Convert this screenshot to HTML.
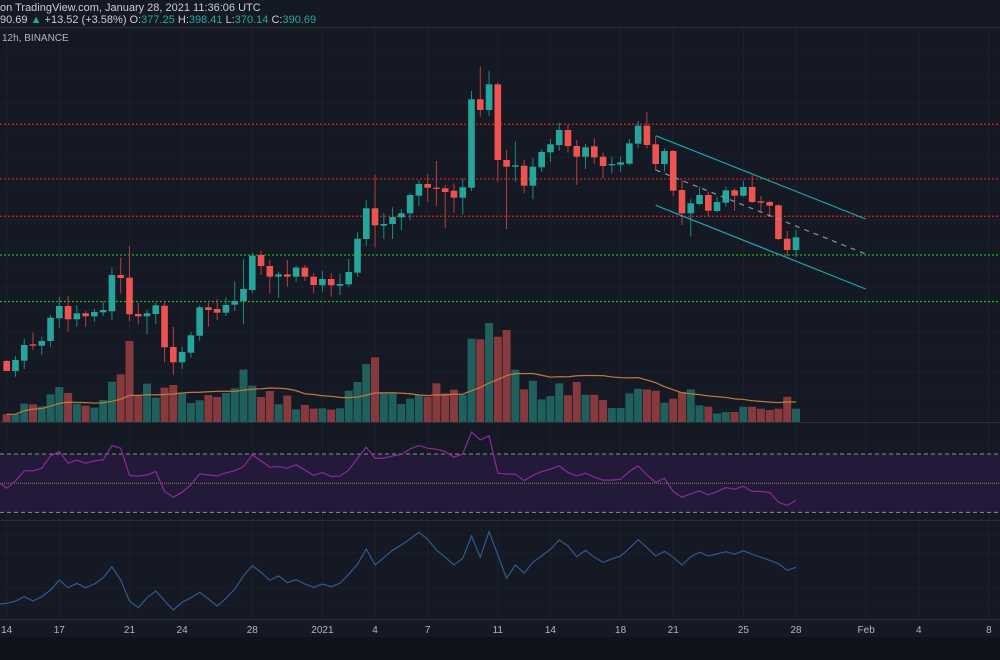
<!DOCTYPE html>
<html><head><meta charset="utf-8">
<style>
html,body{margin:0;padding:0;background:#151924;width:1000px;height:660px;overflow:hidden;font-family:"Liberation Sans",sans-serif}
svg{display:block}
</style></head>
<body>
<svg id="chart" width="1000" height="660" xmlns="http://www.w3.org/2000/svg">
<rect x="0" y="0" width="1000" height="660" fill="#151924"/>
<rect x="0" y="637" width="1000" height="23" fill="#10131b"/>
<g id="grid"></g>
<g id="levels"></g>
<g id="vol"></g>
<g id="candles"></g>
<g id="channel"></g>
<g id="rsi"></g>
<g id="lower"></g>
<g id="xaxis"></g>
<text x="0" y="11" fill="#c8ccd6" font-size="11">on TradingView.com, January 28, 2021 11:36:06 UTC</text>
<text x="0" y="23" font-size="11"><tspan fill="#c8ccd6">90.69 </tspan><tspan fill="#26a69a">▲</tspan><tspan fill="#c8ccd6"> +13.52 (+3.58%) O:</tspan><tspan fill="#26a69a">377.25</tspan><tspan fill="#c8ccd6"> H:</tspan><tspan fill="#26a69a">398.41</tspan><tspan fill="#c8ccd6"> L:</tspan><tspan fill="#26a69a">370.14</tspan><tspan fill="#c8ccd6"> C:</tspan><tspan fill="#26a69a">390.69</tspan></text>
<line x1="0" y1="27.5" x2="1000" y2="27.5" stroke="#2a2e39"/>
<text x="2" y="41" fill="#b2b5be" font-size="10">12h, BINANCE</text>
</svg>
<script>
const opens  =[267,257,267.3,283.7,282.3,287,309.7,322,308.7,314.7,311.7,315.7,316.7,353,350.3,314,311.7,314,322.3,281,265.7,275.3,292.3,320.7,319,315.3,323.3,327,338,373,362,351.3,353.7,351.3,360.3,351.3,342.7,349,342.3,343.7,355.3,389,419.7,402.3,404,410.7,414.7,432.3,444,440.3,439.7,437.3,430.3,440.3,528.7,518,543.7,468,461.3,462.3,442.3,460.7,475.7,483,498,482,471.3,481.7,471.3,462.7,463.3,464.3,484.3,502.3,483.7,464,477,438,414.7,424,433,417,425.3,437.7,432.3,441,426.7,426,422.7,389.3,378];
const closes =[257,268,283,282.3,287,310.3,322,308.7,314.7,311.7,316,318,353,350,313.7,311.7,314.7,322.7,280.7,265.7,276,292.7,320.7,318,315.3,323,327,339,372.3,362,351.3,353.7,351.3,360.3,351.3,343,349,342.7,344,356,389.3,419.7,402.7,404,411,414.7,433,444,440.3,439.3,436,430.3,440.7,528.7,518,543.7,468,461.3,462.7,442.3,461.3,476,483.7,498,482,471.3,480.7,470.7,462,464,465.7,484.7,502.3,483,464,477,437.3,414.7,424.7,433,417.3,426,437.7,432.3,441,426,425.3,422.3,389,378,390.7];
const highs  =[268,272.3,289,295.3,291.3,313,331.3,332,323,317,319.3,327,360.3,370.3,382,325.3,318,325.3,326.3,301,281.3,296,322.7,325.3,329,330.7,346.3,368.7,375.3,377.3,368,356.3,368,362,363,354.7,357,354.7,354,369,395.7,428,453,414.7,420.7,419,434.7,448,454,467,443,444.7,449.7,537,561.3,557.3,545.7,478,486.3,468,469.7,478.7,489,505.3,503.7,488,484,489.7,475.3,471.3,471.3,489,507,515.7,492,479.7,478,448,428.7,441.3,436.3,431.3,441.3,439.7,447.3,453,432,427.3,423.7,397,398];
const lows   =[257,251.3,259,278,273,281,300.3,296.3,301.3,301.3,306.3,312,308,334.7,307,303.7,293.7,304,266,253.3,259,270.3,287.3,301.3,308,312,317.3,304,334.7,353,334.7,330.3,341.3,346.3,347,334.7,336.3,331.3,333,341.3,351.3,382.3,380.7,389,389,398,408,422,426.3,422,400.3,415.3,413.7,437,511.3,512.3,446.3,399,446.3,434.7,428.7,456,466.3,477.3,475.3,443,459,464,449.7,454.7,456,463,480.3,479.7,457,456.3,432,403,391.3,422.7,411.3,415.3,421.3,417.3,431.3,424.7,416.3,411.3,388,371.3,371.3];
const volumes=[7.7,7.7,18.4,17.7,15.7,27.7,35,29,18.4,16.4,14.4,22,40.4,47.7,81,26.4,38.4,24.4,34.4,37,28.7,19,21.7,27,25,29,33.7,52.4,36.4,25,31,17.7,26.4,12.7,17,13.4,13.7,12.4,13.7,31.4,40,58,64.7,29,29,18,23.3,27.3,25.3,38.7,28.7,32.3,27.3,83.3,82.7,99,85.3,92,52.3,32.6,41.3,22.6,26,38.7,26.7,40,27.3,27.3,22,14,14,28.6,33.3,32.6,31.3,19.3,23.3,30,32.6,16.6,15.3,8.6,10,10,15.3,15.3,13.3,12,13.3,25.3,13.3];
const rsiValues=[46.6,51.6,58.5,58.5,60.3,68.7,71.7,63.7,65.8,63.7,65.3,66,75.8,74,55.3,54.8,55.7,58,44.3,40.4,43.8,48.9,56.4,55.7,55,57.1,58.5,61.4,69.4,65.3,61,61.4,60.3,62.6,59.1,55.3,57.3,54.6,54.8,59.1,67.1,74.7,67.1,67.1,68.7,69.7,73.5,75.8,74,73.3,71.7,67.8,70.1,85,79.7,82.5,56.9,56.2,56.2,51.8,55.3,58,59.6,61.9,57.3,55,56.9,54.1,52.1,52.1,52.7,58,61.9,55.7,50.5,53.4,44.3,40.4,42.7,44.7,42,44.3,47,45.9,47.9,44.5,44.3,43.6,37,34.7,38.3];
const lowerValues=[16.7,19,23.3,19,23.3,30,40,32.3,36.7,32.3,36,42.3,53.3,40,19,12.3,22.3,29,19.3,10,17.7,22.3,27.7,21,14,21.7,30.7,44.3,54.3,47.7,39.7,44,37.3,40.3,36,32.7,36,33.3,36.7,45.7,55.7,71,55,62.3,69.7,75,81,87.7,80.7,70,62.7,55,61.7,84,62.7,88.3,65,41.7,55,47,57.7,64,70.7,80,74,63.3,69.7,62.7,57.7,61,64,71.7,80.3,72.3,64,68.7,62.7,55,63.3,67.7,64,66,68.3,65.7,69.3,65.7,62.7,59.7,56.3,49.7,52.7];
const xLabels=["14","17","21","24","28","2021","4","7","11","14","18","21","25","28","Feb","4","8"];
const xLabelIdx=[0,6,14,20,28,36,42,48,56,62,70,76,84,90,98,104,112];
const resLevels=[503.7,449,411.7];
const supLevels=[373,326.5];

const NS="http://www.w3.org/2000/svg";
const X=i=>6.7+i*8.77;
const PY=p=>628-p;
const VY=v=>422-v;
const RY=r=>483.2-(r-50)*1.458;
const LY=v=>620-v;
const GREEN="#26a69a",RED="#ef5350";
function mk(tag,attrs,parent){const e=document.createElementNS(NS,tag);for(const k in attrs)e.setAttribute(k,attrs[k]);parent.appendChild(e);return e;}
const G=id=>document.getElementById(id);

const grid=G('grid');
xLabelIdx.forEach(i=>{const l=mk('line',{x1:X(i),x2:X(i),y1:28,y2:619,stroke:'#1e222d','stroke-width':1},grid);

});
[50,78,103,130,157,187,220,245,267,287,310,332,352,372,392,410,445,468,498,535,553,588,605].forEach(y=>{const l=mk('line',{x1:0,x2:1000,y1:y,y2:y,stroke:'#1c202b','stroke-width':1},grid);

});
[422.5,520.5,619.5].forEach(y=>{const l=mk('line',{x1:0,x2:1000,y1:y,y2:y,stroke:'#2a2e39','stroke-width':1},grid);

});

const lv=G('levels');
resLevels.forEach(p=>{const l=mk('line',{x1:0,x2:1000,y1:PY(p),y2:PY(p),stroke:'#d01c1c','stroke-width':1.3,'stroke-dasharray':'2,2'},lv);

});
supLevels.forEach(p=>{const l=mk('line',{x1:0,x2:1000,y1:PY(p),y2:PY(p),stroke:'#1fb31f','stroke-width':1.3,'stroke-dasharray':'2,2'},lv);

});

const vg=G('vol');
volumes.forEach((v,i)=>{const up=closes[i]>=opens[i];const r=mk('rect',{x:X(i)-4,y:VY(v),width:8,height:v,fill:up?'#1f5f5c':'#873a3e'},vg);

});
let ma=[];for(let i=0;i<volumes.length;i++){const s=Math.max(0,i-19);let t=0;for(let j=s;j<=i;j++)t+=volumes[j];ma.push(t/(i-s+1));}
const maL=mk('polyline',{points:ma.map((m,i)=>X(i)+','+VY(m)).join(' '),fill:'none',stroke:'#c27a3c','stroke-width':1.2},vg);



const cg=G('candles');
opens.forEach((o,i)=>{const c=closes[i];const up=c>=o;const col=up?GREEN:RED;const x=X(i);
const w=mk('line',{x1:x,x2:x,y1:PY(highs[i]),y2:PY(lows[i]),stroke:up?'#1f8a80':'#b5403f','stroke-width':1},cg);


const t=PY(Math.max(o,c)),h=Math.max(1.2,Math.abs(o-c));
const b=mk('rect',{x:x-3.3,y:t,width:6.6,height:h,fill:col},cg);

});

const ch=G('channel');
[[655.7,135.7,865.7,219,'#1fa5ae','none','channel-upper'],[655.7,205.3,865.7,289,'#1fa5ae','none','channel-lower'],[655.7,170,865.7,254,'#8f939c','5,5','channel-mid']].forEach(s=>{
const l=mk('line',{x1:s[0],y1:s[1],x2:s[2],y2:s[3],stroke:s[4],'stroke-width':1.2,'stroke-dasharray':s[5]},ch);

});

const rg=G('rsi');
const fill=mk('rect',{x:0,y:RY(70),width:1000,height:RY(30)-RY(70),fill:'#231a3a'},rg);


[70,30].forEach(r=>{const l=mk('line',{x1:0,x2:1000,y1:RY(r),y2:RY(r),stroke:'#8a8d96','stroke-dasharray':'4,3','stroke-width':1},rg);

});
const mid=mk('line',{x1:0,x2:1000,y1:RY(50),y2:RY(50),stroke:'#8a7a5a','stroke-dasharray':'1,1','stroke-width':1},rg);


const rl=mk('polyline',{points:'0,'+RY(50)+' '+rsiValues.map((r,i)=>X(i)+','+RY(r)).join(' '),fill:'none',stroke:'#8a2a9e','stroke-width':1.2},rg);



const lg=G('lower');
const ll=mk('polyline',{points:'0,'+LY(16)+' '+lowerValues.map((v,i)=>X(i)+','+LY(v)).join(' '),fill:'none',stroke:'#2f5a8f','stroke-width':1.2},lg);



const xa=G('xaxis');
xLabels.forEach((t,k)=>{const e=mk('text',{x:X(xLabelIdx[k]),y:633,fill:'#b2b5be','font-size':10,'text-anchor':'middle'},xa);e.textContent=t;

});
</script>
</body></html>
